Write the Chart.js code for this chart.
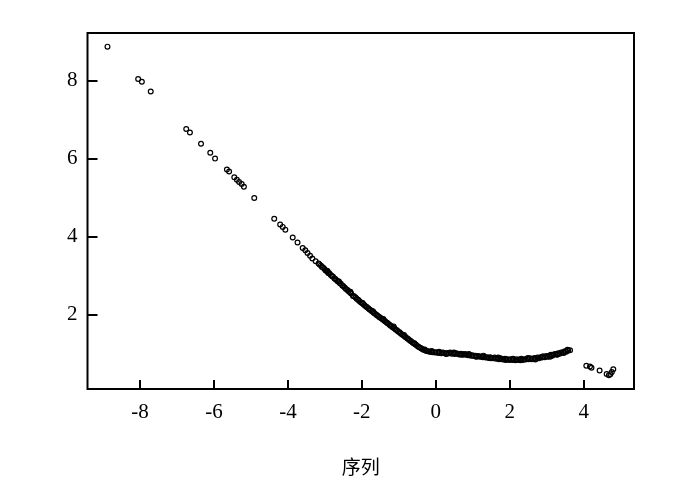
<!DOCTYPE html>
<html>
<head>
<meta charset="utf-8">
<script src="https://cdn.jsdelivr.net/npm/chart.js@4"></script>
<style>
  html, body { margin: 0; padding: 0; background: #ffffff; }
  canvas { display: block; }
</style>
</head>
<body>
<canvas id="scatterChart" width="700" height="494"></canvas>
<script>
// sparse upper branch
const upperX = [-8.88, -8.05, -7.95, -7.71, -6.75, -6.65, -6.35, -6.10, -5.97, -5.65, -5.59, -5.45, -5.38, -5.32, -5.25, -5.19, -4.91,
    -4.37, -4.21, -4.14, -4.07, -3.87, -3.74, -3.60, -3.53, -3.47, -3.40, -3.34, -3.25, -3.17];
const upperY = [8.87, 8.04, 7.97, 7.72, 6.76, 6.67, 6.38, 6.15, 6.00, 5.72, 5.67, 5.52, 5.46, 5.40, 5.35, 5.28, 4.99,
    4.46, 4.31, 4.25, 4.18, 3.98, 3.85, 3.71, 3.65, 3.58, 3.51, 3.44, 3.37, 3.31];

// dense band
const bandX = [-3.15, -3.11, -3.08, -3.05, -3.01, -2.98, -2.95, -2.91, -2.88, -2.84, -2.81, -2.78, -2.74, -2.71, -2.67, -2.64,
    -2.60, -2.57, -2.53, -2.50, -2.46, -2.43, -2.39, -2.36, -2.32, -2.29, -2.24, -2.21, -2.17, -2.14, -2.10, -2.07, -2.03,
    -2.00, -1.96, -1.93, -1.89, -1.86, -1.82, -1.79, -1.75, -1.72, -1.68, -1.65, -1.61, -1.58, -1.54, -1.51,
    -1.47, -1.44, -1.40, -1.37, -1.33, -1.30, -1.26, -1.23, -1.19, -1.16, -1.12, -1.09, -1.05, -1.02, -0.98, -0.95,
    -0.91, -0.88, -0.84, -0.81, -0.77, -0.74, -0.70, -0.67, -0.63, -0.60, -0.56, -0.53, -0.49, -0.46, -0.42, -0.39,
    -0.35, -0.32, -0.28, -0.25, -0.21, -0.17, -0.13, -0.09, -0.05, -0.01,
    0.03, 0.07, 0.11, 0.15, 0.19, 0.23, 0.27, 0.31, 0.35, 0.39, 0.43, 0.47, 0.51, 0.55, 0.59, 0.63, 0.67, 0.71, 0.75,
    0.79, 0.83, 0.87, 0.91, 0.95, 0.99, 1.03, 1.07, 1.11, 1.15, 1.19, 1.23, 1.27, 1.31, 1.35, 1.39, 1.43, 1.47, 1.51,
    1.55, 1.59, 1.63, 1.67, 1.71, 1.75, 1.79, 1.83, 1.87, 1.91, 1.95, 1.99, 2.03, 2.07, 2.11, 2.15, 2.19, 2.23, 2.27,
    2.31, 2.35, 2.39, 2.43, 2.47, 2.51, 2.55, 2.59, 2.63, 2.67, 2.71, 2.75, 2.79, 2.83, 2.87, 2.91, 2.95, 2.99, 3.03,
    3.07, 3.11, 3.15, 3.19, 3.23, 3.27, 3.31, 3.35, 3.39, 3.44, 3.49, 3.53, 3.58, 3.63];
const bandY = [3.29, 3.26, 3.22, 3.21, 3.17, 3.13, 3.12, 3.07, 3.06, 3.02, 2.99, 2.97, 2.93, 2.91, 2.87, 2.85,
    2.81, 2.79, 2.75, 2.73, 2.69, 2.66, 2.63, 2.60, 2.57, 2.54, 2.48, 2.47, 2.44, 2.41, 2.38, 2.35, 2.32,
    2.30, 2.27, 2.24, 2.21, 2.19, 2.16, 2.13, 2.11, 2.08, 2.05, 2.03, 2.00, 1.98, 1.95, 1.93,
    1.90, 1.88, 1.85, 1.83, 1.80, 1.78, 1.75, 1.72, 1.70, 1.67, 1.65, 1.62, 1.60, 1.57, 1.55, 1.52,
    1.49, 1.47, 1.44, 1.42, 1.39, 1.37, 1.34, 1.32, 1.29, 1.27, 1.24, 1.22, 1.19, 1.17, 1.15, 1.13,
    1.11, 1.10, 1.08, 1.07, 1.06, 1.05, 1.05, 1.04, 1.04, 1.03,
    1.04, 1.02, 1.03, 1.01, 1.03, 1.02, 1.00, 1.02, 1.01, 1.03, 1.00, 1.01, 0.99, 1.01, 1.00, 0.98, 1.00, 0.99, 0.97,
    0.99, 0.97, 0.96, 0.98, 0.95, 0.96, 0.94, 0.95, 0.93, 0.94, 0.92, 0.93, 0.91, 0.92, 0.90, 0.91, 0.89, 0.91, 0.89,
    0.88, 0.90, 0.87, 0.88, 0.86, 0.88, 0.86, 0.85, 0.87, 0.85, 0.86, 0.84, 0.86, 0.84, 0.85, 0.83, 0.86, 0.84, 0.85,
    0.87, 0.84, 0.86, 0.85, 0.87, 0.86, 0.88, 0.86, 0.87, 0.89, 0.87, 0.90, 0.88, 0.91, 0.90, 0.93, 0.91, 0.94, 0.92,
    0.95, 0.97, 0.95, 0.98, 0.99, 0.97, 1.01, 1.00, 1.03, 1.04, 1.06, 1.05, 1.08, 1.09];

// second row of points that widens the band
const band2X = [-2.93, -2.62, -2.31, -1.98, -1.70, -1.42, -1.14, -0.86, -0.58, -0.30, -0.11, 0.09, 0.29, 0.49, 0.69,
    0.89, 1.09, 1.29, 1.49, 1.69, 1.89, 2.09, 2.29, 2.49, 2.69, 2.89, 3.09, 3.29, 3.46, 3.56];
const band2Y = [3.12, 2.85, 2.59, 2.30, 2.09, 1.89, 1.70, 1.48, 1.27, 1.11, 1.07, 1.05, 0.99, 1.03, 0.97,
    0.99, 0.92, 0.95, 0.88, 0.90, 0.84, 0.87, 0.83, 0.89, 0.85, 0.93, 0.92, 0.98, 1.02, 1.10];

// scattered points at the right end
const tailX = [4.07, 4.17, 4.21, 4.43, 4.62, 4.68, 4.72, 4.76, 4.80];
const tailY = [0.69, 0.67, 0.64, 0.57, 0.48, 0.45, 0.47, 0.53, 0.60];

const xTicks = [-8, -6, -4, -2, 0, 2, 4];
const yTicks = [2, 4, 6, 8];
const axisTitle = '序列';

const serif = "'Liberation Serif', 'Times New Roman', serif";

function toPoints(xs, ys) {
    return xs.map((x, i) => ({ x: x, y: ys[i] }));
}

// frame round the plot and inward tick marks
const framePlugin = {
    id: 'frame',
    afterDatasetsDraw(chart) {
        const { ctx, chartArea: a, scales } = chart;
        ctx.save();
        ctx.strokeStyle = '#000000';
        ctx.lineWidth = 2;
        ctx.strokeRect(a.left, a.top, a.right - a.left, a.bottom - a.top);
        ctx.beginPath();
        xTicks.forEach(v => {
            const px = Math.round(scales.x.getPixelForValue(v));
            ctx.moveTo(px, a.bottom);
            ctx.lineTo(px, a.bottom - 9);
        });
        yTicks.forEach(v => {
            const py = Math.round(scales.y.getPixelForValue(v));
            ctx.moveTo(a.left, py);
            ctx.lineTo(a.left + 10, py);
        });
        ctx.stroke();
        ctx.restore();
    }
};

const ctx = document.getElementById('scatterChart').getContext('2d');
new Chart(ctx, {
    type: 'scatter',
    data: {
        datasets: [{
            data: [...toPoints(upperX, upperY), ...toPoints(bandX, bandY), ...toPoints(band2X, band2Y), ...toPoints(tailX, tailY)],
            pointStyle: 'circle',
            pointRadius: 2.4,
            pointBorderWidth: 1.2,
            pointBorderColor: '#000000',
            pointBackgroundColor: 'rgba(0,0,0,0)',
            pointHoverRadius: 2.4
        }]
    },
    options: {
        responsive: false,
        animation: false,
        layout: { padding: { top: 33, right: 66, bottom: 0, left: 0 } },
        plugins: {
            legend: { display: false },
            tooltip: { enabled: false }
        },
        scales: {
            x: {
                type: 'linear',
                min: -9.42,
                max: 5.36,
                afterFit: s => { s.height = 105; },
                grid: { display: false, drawTicks: false },
                border: { display: false },
                ticks: {
                    stepSize: 2,
                    includeBounds: false,
                    padding: 11,
                    color: '#000000',
                    font: { family: serif, size: 21 },
                    callback: v => v
                },
                title: {
                    display: true,
                    text: axisTitle,
                    color: '#000000',
                    font: { family: "'Noto Sans CJK SC', sans-serif", size: 19 },
                    padding: { top: 0, bottom: 16 }
                }
            },
            y: {
                type: 'linear',
                min: 0.095,
                max: 9.22,
                afterFit: s => { s.width = 87.5; },
                grid: { display: false, drawTicks: false },
                border: { display: false },
                ticks: {
                    stepSize: 2,
                    includeBounds: false,
                    padding: 10,
                    color: '#000000',
                    font: { family: serif, size: 21 },
                    callback: v => v
                }
            }
        }
    },
    plugins: [framePlugin]
});
</script>
</body>
</html>
